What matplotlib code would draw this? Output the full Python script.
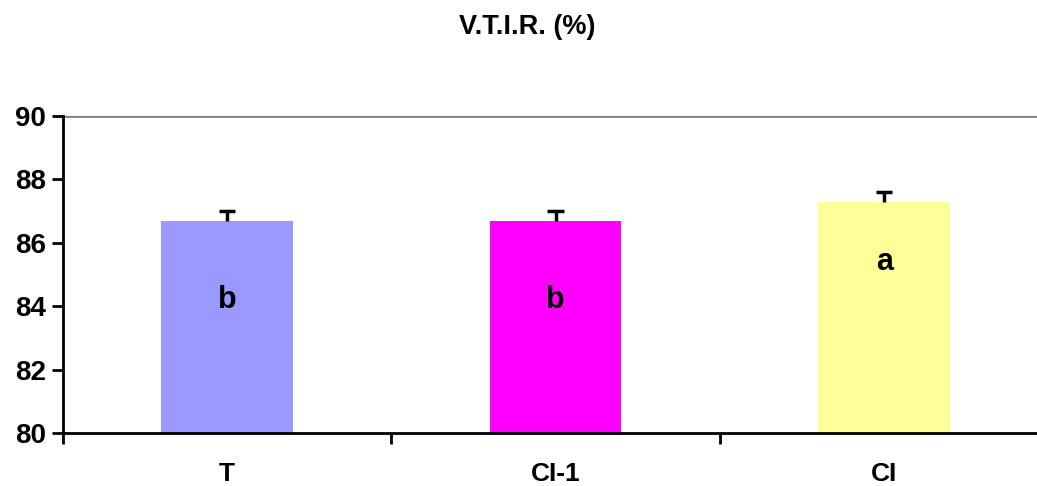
import numpy as np
import matplotlib.pyplot as plt

categories = ["T", "CI-1", "CI"]
values = [86.7, 86.7, 87.3]
errors = [0.3, 0.3, 0.3]
letters = ["b", "b", "a"]
letter_y = [84.2, 84.2, 85.4]
colors = ["#9999FF", "#FF00FF", "#FFFF99"]

plt.rcParams['font.family'] = ['Liberation Sans', 'DejaVu Sans']
plt.rcParams['font.weight'] = 'bold'

fig = plt.figure(figsize=(10.37, 4.86), dpi=100)
ax = fig.add_axes([62.5/1037, 1 - 433/486, 986/1037, (433-116)/486])

x = np.arange(len(categories))
ax.bar(x, values, width=0.4, color=colors, zorder=2)
# upper-only error bars
tops = np.array(values) + np.array(errors)
ax.vlines(x, values, tops, color='black', lw=2.5, zorder=3)
ax.hlines(tops, x - 0.025, x + 0.025, color='black', lw=2.5, zorder=3)
for xi, ly, lt in zip(x, letter_y, letters):
    ax.text(xi, ly, lt, ha='center', va='center', fontsize=22, fontweight='bold')

ax.set_ylim(80, 90)
ax.set_xlim(-0.5, 2.5)
ax.set_yticks(np.arange(80, 91, 2))
ax.set_xticks(x)
ax.set_xticklabels(categories, fontsize=19, fontweight='bold')
ax.set_xticks([-0.5, 0.5, 1.5, 2.5], minor=True)
ax.tick_params(axis='x', which='major', length=0, pad=21)
ax.tick_params(axis='x', which='minor', length=8, width=2, direction='out')
ax.tick_params(axis='y', length=8, width=2, labelsize=20, pad=4)
for lab in ax.get_yticklabels():
    lab.set_fontweight('bold')

ax.axhline(90, color='#808080', lw=2, zorder=1)
ax.spines['top'].set_visible(False)
ax.spines['right'].set_visible(False)
ax.spines['left'].set_linewidth(2)
ax.spines['bottom'].set_linewidth(2)

fig.text(527/1037, 1 - 27/486, "V.T.I.R. (%)", ha='center', va='center',
         fontsize=19.5, fontweight='bold')

fig.savefig("out.png", dpi=100)
